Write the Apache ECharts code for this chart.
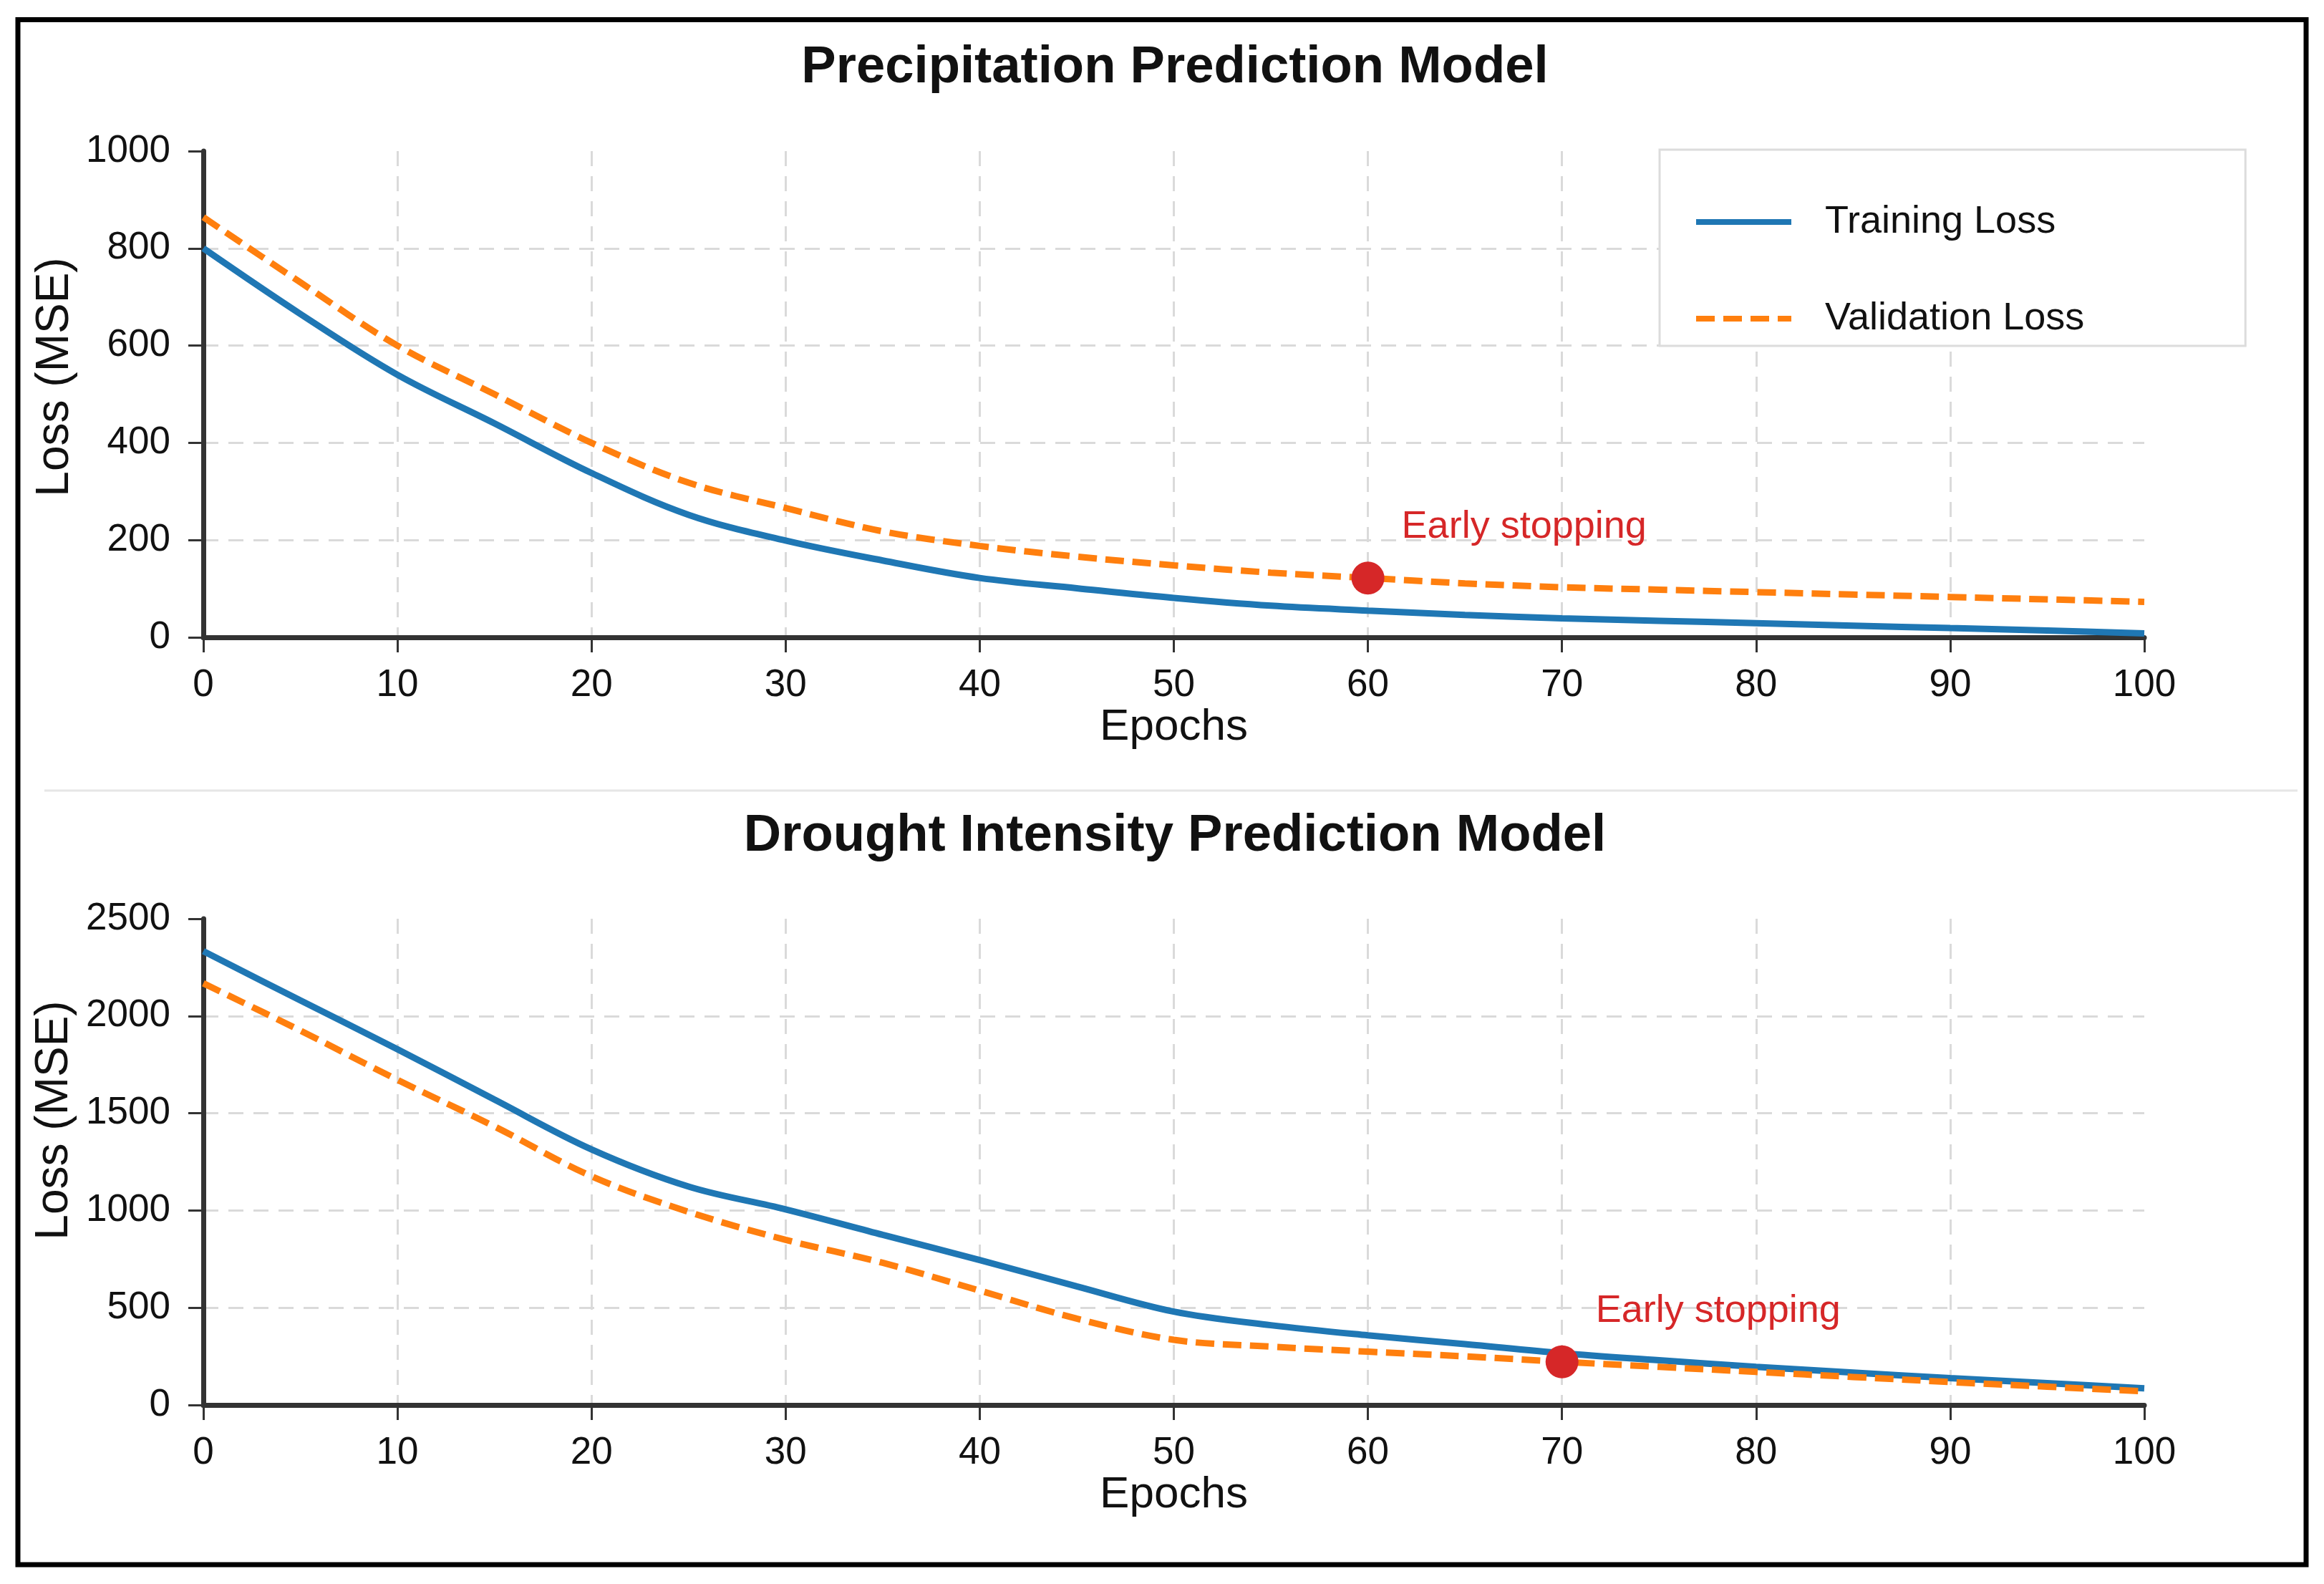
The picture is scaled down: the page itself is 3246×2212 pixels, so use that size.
<!DOCTYPE html>
<html>
<head>
<meta charset="utf-8">
<title>Training and validation loss</title>
<script src="https://cdn.jsdelivr.net/npm/echarts@6/dist/echarts.min.js"></script>
<style>
  html, body { margin: 0; padding: 0; background: #fff; }
  #chart { width: 3246px; height: 2212px; }
</style>
</head>
<body>
<div id="chart"></div>
<script>
// values, one point every 5 epochs
const epochs = [0, 5, 10, 15, 20, 25, 30, 35, 40, 45, 50, 55, 60, 65, 70, 75, 80, 85, 90, 95, 100];

const precipTrain = [800, 665, 540, 440, 338, 252, 199, 158, 122, 101, 81, 65, 55, 46, 39, 34, 29, 24, 19, 14, 8];
const precipVal   = [864, 730, 600, 500, 400, 318, 266, 218, 188, 166, 148, 133, 122, 111, 103, 98, 93, 88, 83, 78, 73];

const droughtTrain = [2333, 2080, 1829, 1570, 1314, 1123, 1006, 875, 745, 610, 480, 410, 358, 313, 266, 230, 196, 167, 138, 112, 86];
const droughtVal   = [2168, 1925, 1672, 1432, 1176, 993, 849, 731, 588, 444, 335, 300, 274, 250, 222, 196, 170, 144, 118, 94, 70];

const titles = ['Precipitation Prediction Model', 'Drought Intensity Prediction Model'];
const seriesNames = ['Training Loss', 'Validation Loss'];
const stopLabel = 'Early stopping';
const stopEpochs = [60, 70];
const yMax = [1000, 2500];
const yStep = [200, 500];

const FONT = '"Liberation Sans", Arial, sans-serif';
const BLUE = '#1f77b4', ORANGE = '#ff7f0e', RED = '#d62728';

const pairs = ys => epochs.map((e, i) => [e, ys[i]]);
const gridLine = { color: '#dadada', width: 3, type: [21, 14] };
const plain = v => String(v);

function makeX(i) {
  return {
    type: 'value', gridIndex: i, min: 0, max: 100, interval: 10,
    name: 'Epochs', nameLocation: 'middle', nameGap: 82,
    nameTextStyle: { fontFamily: FONT, fontSize: 62, color: '#111' },
    axisLine: { show: true, onZero: false, lineStyle: { color: '#333', width: 7 } },
    axisTick: { show: true, length: 21, lineStyle: { color: '#333', width: 3 } },
    axisLabel: { fontFamily: FONT, fontSize: 53, color: '#111', margin: 41, formatter: plain },
    splitLine: { show: true, showMinLine: false, showMaxLine: false, lineStyle: gridLine }
  };
}

function makeY(i, gap, shift) {
  return {
    type: 'value', gridIndex: i, min: 0, max: yMax[i], interval: yStep[i],
    name: 'Loss (MSE)', nameLocation: 'middle', nameGap: gap,
    nameTextStyle: { fontFamily: FONT, fontSize: 64, color: '#111', padding: [0, 0, 0, shift] },
    axisLine: { show: true, lineStyle: { color: '#333', width: 7 } },
    axisTick: { show: true, length: 21, lineStyle: { color: '#333', width: 3 } },
    axisLabel: { fontFamily: FONT, fontSize: 53, color: '#111', margin: 46, formatter: plain },
    splitLine: { show: true, showMinLine: false, showMaxLine: false, lineStyle: gridLine }
  };
}

function makeSeries(i, train, val) {
  const k = epochs.indexOf(stopEpochs[i]);
  return [
    {
      type: 'line', name: seriesNames[0], xAxisIndex: i, yAxisIndex: i,
      data: pairs(train), smooth: 0.35, symbol: 'none',
      lineStyle: { color: BLUE, width: 9 }, itemStyle: { color: BLUE }, z: 3
    },
    {
      type: 'line', name: seriesNames[1], xAxisIndex: i, yAxisIndex: i,
      data: pairs(val), smooth: 0.35, symbol: 'none',
      lineStyle: { color: ORANGE, width: 9, type: [26, 12], cap: 'butt' }, itemStyle: { color: ORANGE }, z: 4
    },
    {
      type: 'scatter', name: stopLabel, xAxisIndex: i, yAxisIndex: i,
      data: [[stopEpochs[i], val[k]]], symbolSize: 46,
      itemStyle: { color: RED, opacity: 1 }, z: 6,
      label: {
        show: true, formatter: stopLabel, position: 'right', distance: 24, offset: [0, -71],
        fontFamily: FONT, fontSize: 54, color: RED
      }
    }
  ];
}

function titleText(text, y) {
  return {
    type: 'text', x: 1641, y: y, silent: true,
    style: {
      text: text, fill: '#111', align: 'center', verticalAlign: 'middle',
      fontFamily: FONT, fontSize: 72.5, fontWeight: 'bold'
    }
  };
}

const chart = echarts.init(document.getElementById('chart'), null, { renderer: 'canvas' });

chart.setOption({
  backgroundColor: '#fff',
  animation: false,
  grid: [
    { left: 284, right: 251, top: 211, height: 679 },
    { left: 284, right: 251, top: 1283, height: 679 }
  ],
  xAxis: [makeX(0), makeX(1)],
  yAxis: [makeY(0, 170, 48), makeY(1, 176, 116)],
  legend: {
    data: seriesNames,
    orient: 'vertical', left: 2318, top: 209,
    padding: [71, 225, 8, 47],
    itemWidth: 133, itemHeight: 14, itemGap: 75,
    borderColor: '#dcdcdc', borderWidth: 3, backgroundColor: '#fff',
    itemStyle: { opacity: 0 },
    lineStyle: { width: 8 },
    textStyle: { fontFamily: FONT, fontSize: 54, color: '#111', lineHeight: 60, padding: [0, 0, 0, 42] },
    selectedMode: false
  },
  series: [].concat(
    makeSeries(0, precipTrain, precipVal),
    makeSeries(1, droughtTrain, droughtVal)
  ),
  graphic: [
    {
      type: 'rect', silent: true,
      shape: { x: 25, y: 27.5, width: 3196, height: 2157.5 },
      style: { fill: null, stroke: '#000', lineWidth: 7 }
    },
    {
      type: 'line', silent: true,
      shape: { x1: 62, y1: 1104, x2: 3209, y2: 1104 },
      style: { stroke: '#e6e6e6', lineWidth: 3 }
    },
    titleText(titles[0], 95),
    titleText(titles[1], 1168)
  ]
});
</script>
</body>
</html>
